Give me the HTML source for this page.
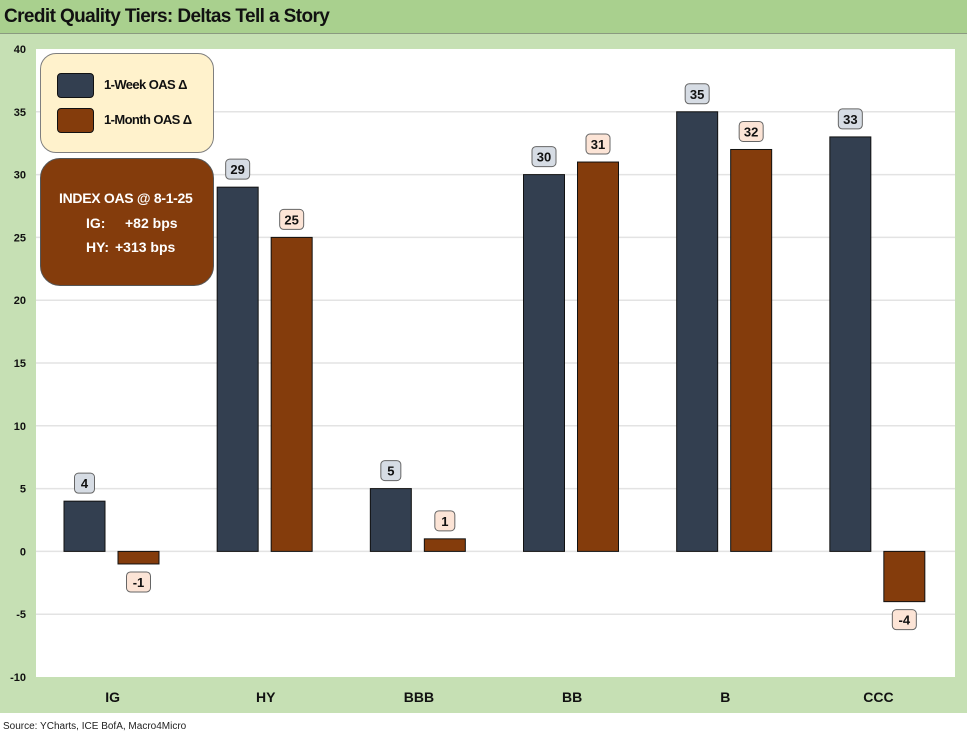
<!DOCTYPE html>
<html><head><meta charset="utf-8"><style>
body{margin:0;width:972px;height:737px;background:#fff;font-family:"Liberation Sans",Calibri,sans-serif;overflow:hidden;position:relative}
#title{position:absolute;left:0;top:0;width:967px;height:33px;background:#a9d08e;border-bottom:1px solid #8a9a80}
#title span{position:absolute;left:4px;top:6px;font-size:19px;font-weight:bold;color:#111;letter-spacing:-0.6px}
#panel{position:absolute;left:0;top:34px;width:967px;height:679px;background:#c6e0b4}
#src{position:absolute;left:3px;top:721px;font-size:10px;color:#222}
svg{position:absolute;left:0;top:0}
.leg{position:absolute;left:40px;top:53px;width:172px;height:98px;background:#fff2cc;border:1.5px solid #7f7f7f;border-radius:16px}
.sw{position:absolute;left:16px;width:35px;height:23px;border:1.5px solid #111;border-radius:4px}
.lt{position:absolute;left:63px;font-size:13px;font-weight:bold;color:#111;letter-spacing:-0.6px}
.info{position:absolute;left:40px;top:158px;width:172px;height:126px;background:#843c0c;border:1.5px solid #555;border-radius:20px;color:#fff;font-weight:bold;font-size:14px}
.info div{position:absolute}
</style></head><body>
<div id="title"><span>Credit Quality Tiers: Deltas Tell a Story</span></div>
<div id="panel"></div>
<svg id="chart" width="972" height="737"></svg>
<div class="leg">
 <div class="sw" style="top:19px;background:#333f50"></div>
 <div class="lt" style="top:23px">1-Week OAS Δ</div>
 <div class="sw" style="top:54px;background:#843c0c"></div>
 <div class="lt" style="top:58px">1-Month OAS Δ</div>
</div>
<div class="info">
 <div style="left:18px;top:31px;letter-spacing:-0.3px">INDEX OAS @ 8-1-25</div>
 <div style="left:45px;top:56px">IG:</div>
 <div style="left:84px;top:56px">+82 bps</div>
 <div style="left:45px;top:80px">HY:</div>
 <div style="left:74px;top:80px">+313 bps</div>
</div>
<div id="src">Source: YCharts, ICE BofA, Macro4Micro</div>
<script>
const categories=["IG","HY","BBB","BB","B","CCC"];
const weekValues=[4,29,5,30,35,33];
const monthValues=[-1,25,1,31,32,-4];
const yTicks=[40,35,30,25,20,15,10,5,0,-5,-10];
const NS="http://www.w3.org/2000/svg";
const svg=document.getElementById('chart');
const PL=36,PR=955,PT=49,PB=677,YMAX=40,YMIN=-10;
const y=v=>PT+(YMAX-v)/(YMAX-YMIN)*(PB-PT);
const gw=(PR-PL)/categories.length;
function mk(t,a){const e=document.createElementNS(NS,t);for(const k in a)e.setAttribute(k,a[k]);svg.appendChild(e);return e;}
const bg=mk('rect',{x:PL,y:PT,width:PR-PL,height:PB-PT,fill:'#fff'});


yTicks.forEach(t=>{
 if(t!==YMAX&&t!==YMIN){const g=mk('line',{x1:PL,x2:PR,y1:y(t),y2:y(t),stroke:'#e3e3e3','stroke-width':1.5});
 
 }
 const tx=mk('text',{x:26,y:y(t)+4,'text-anchor':'end','font-size':11,'font-weight':'bold',fill:'#111','font-family':'Liberation Sans,sans-serif'});
 tx.textContent=t;
 
 
});
function bar(v,x,fill,lblFill,name){
 const y0=y(0),yv=y(v);
 const r=mk('rect',{x:x,y:Math.min(y0,yv),width:41,height:Math.abs(y0-yv),fill:fill,stroke:'#111','stroke-width':1});
 
 
 const s=String(v);const w=s.length>1?24:20;
 const ly=v>=0?yv-28:yv+8;
 const b=mk('rect',{x:x+20.5-w/2,y:ly,width:w,height:20,rx:4,fill:lblFill,stroke:'#666','stroke-width':1});
 
 
 const t=mk('text',{x:x+20.5,y:ly+15,'text-anchor':'middle','font-size':13,'font-weight':'bold',fill:'#111','font-family':'Liberation Sans,sans-serif'});
 t.textContent=s;
 
 
}
categories.forEach((c,i)=>{
 const gx=PL+gw*i;
 bar(weekValues[i],gx+28,'#333f50','#d6dce4','bar-week-'+c.toLowerCase());
 bar(monthValues[i],gx+82,'#843c0c','#fce4d6','bar-month-'+c.toLowerCase());
 const t=mk('text',{x:gx+gw/2,y:702,'text-anchor':'middle','font-size':14,'font-weight':'bold',fill:'#111','font-family':'Liberation Sans,sans-serif'});
 t.textContent=c;
 
 
});
</script>
</body></html>
